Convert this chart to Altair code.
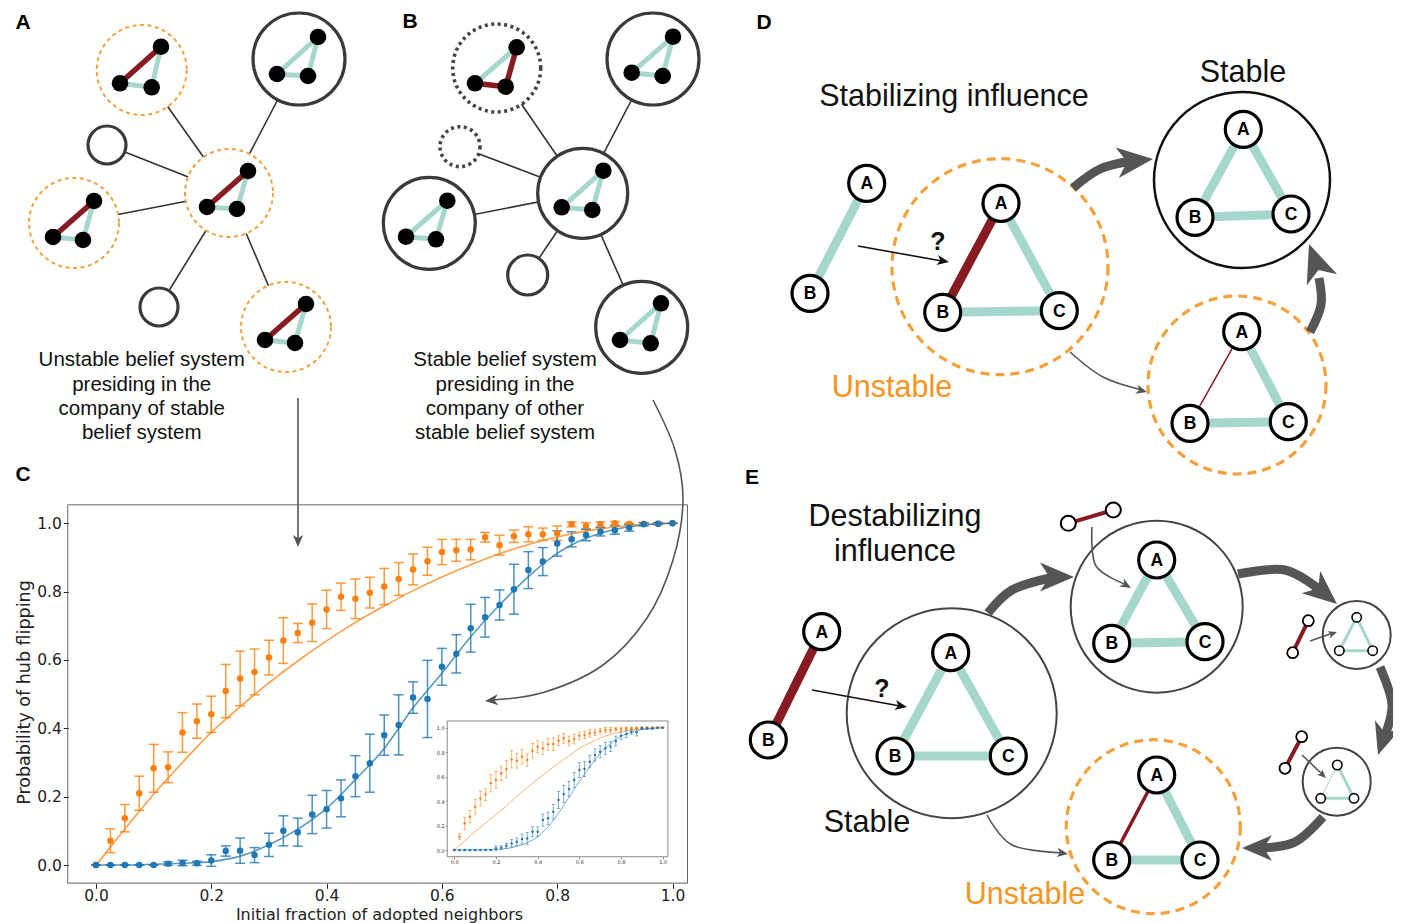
import altair as alt
import pandas as pd

# ------------------------------------------------------------------
# Canvas: one layered chart; diagram layers use reference-pixel coords
# ------------------------------------------------------------------
W, H = 1385, 907
OX, OY = 8, 8

FONT = "Liberation Sans"
PLOT_FONT = "DejaVu Sans"
TEAL = "#a6d7cd"
RED = "#861b22"
ORANGE_RING = "#f5a03a"
ORANGE_TEXT = "#f7941d"
GRAY = "#555555"
C_ORANGE = "#ff7f0e"
C_BLUE = "#1f77b4"

# ------------------------------ panel C data ------------------------------
frac = [0.0, 0.025, 0.05, 0.075, 0.1, 0.125, 0.15, 0.175, 0.2, 0.225,
        0.25, 0.275, 0.3, 0.325, 0.35, 0.375, 0.4, 0.425, 0.45, 0.475,
        0.5, 0.525, 0.55, 0.575, 0.6, 0.625, 0.65, 0.675, 0.7, 0.725,
        0.75, 0.775, 0.8, 0.825, 0.85, 0.875, 0.9, 0.925, 0.95, 0.975, 1.0]
orange_mean = [0.0, 0.071, 0.137, 0.210, 0.283, 0.286, 0.388, 0.421, 0.441, 0.509,
               0.546, 0.565, 0.607, 0.657, 0.679, 0.709, 0.748, 0.785, 0.779, 0.797,
               0.815, 0.837, 0.865, 0.889, 0.916, 0.921, 0.923, 0.959, 0.936, 0.962,
               0.968, 0.968, 0.971, 0.997, 0.992, 0.997, 1.0, 0.998, 0.999, 0.999, 1.0]
orange_err = [0.0, 0.035, 0.04, 0.05, 0.07, 0.045, 0.058, 0.05, 0.053, 0.078,
              0.08, 0.067, 0.051, 0.067, 0.028, 0.055, 0.056, 0.04, 0.058, 0.045,
              0.053, 0.048, 0.045, 0.041, 0.037, 0.032, 0.03, 0.014, 0.029, 0.018,
              0.022, 0.018, 0.021, 0.007, 0.01, 0.007, 0.005, 0.003, 0.003, 0.002, 0.0]
blue_mean = [0.0, 0.0, 0.0, 0.0, 0.0, 0.004, 0.006, 0.005, 0.013, 0.041,
             0.042, 0.029, 0.059, 0.100, 0.096, 0.148, 0.163, 0.195, 0.260, 0.298,
             0.380, 0.410, 0.490, 0.486, 0.580, 0.618, 0.693, 0.725, 0.761, 0.807,
             0.863, 0.888, 0.941, 0.953, 0.966, 0.975, 0.980, 0.987, 0.997, 0.999, 1.0]
blue_err = [0.0, 0.0, 0.0, 0.0, 0.0, 0.005, 0.008, 0.006, 0.017, 0.015,
            0.037, 0.022, 0.034, 0.044, 0.041, 0.056, 0.055, 0.054, 0.06, 0.085,
            0.059, 0.088, 0.046, 0.113, 0.054, 0.056, 0.07, 0.058, 0.044, 0.073,
            0.054, 0.041, 0.037, 0.022, 0.017, 0.012, 0.012, 0.01, 0.005, 0.003, 0.0]
fit_frac = [0.0, 0.05, 0.1, 0.15, 0.2, 0.25, 0.3, 0.35, 0.4, 0.45, 0.5,
            0.55, 0.6, 0.65, 0.7, 0.75, 0.8, 0.85, 0.9, 0.95, 1.0]
orange_fit = [0.0, 0.105, 0.207, 0.300, 0.388, 0.463, 0.533, 0.597, 0.656, 0.710, 0.758,
              0.803, 0.843, 0.879, 0.911, 0.938, 0.960, 0.977, 0.989, 0.997, 1.0]
blue_fit = [0.0, 0.0, 0.002, 0.005, 0.01, 0.026, 0.059, 0.105, 0.166, 0.25, 0.341,
            0.46, 0.561, 0.668, 0.761, 0.844, 0.912, 0.956, 0.982, 0.995, 1.0]

inset_orange_mean = [0.0, 0.109, 0.218, 0.272, 0.354, 0.422, 0.455, 0.545, 0.572, 0.627,
                     0.662, 0.741, 0.730, 0.763, 0.736, 0.812, 0.845, 0.831, 0.864, 0.866,
                     0.894, 0.913, 0.891, 0.907, 0.935, 0.940, 0.954, 0.959, 0.973, 0.981,
                     0.981, 0.989, 0.989, 0.995, 0.995, 0.997, 1.0, 1.0, 1.0, 1.0, 1.0]
inset_orange_err = [0.0, 0.025, 0.05, 0.05, 0.06, 0.06, 0.05, 0.07, 0.07, 0.06,
                    0.07, 0.07, 0.06, 0.06, 0.05, 0.06, 0.05, 0.05, 0.05, 0.05,
                    0.04, 0.04, 0.04, 0.04, 0.03, 0.03, 0.03, 0.025, 0.02, 0.02,
                    0.02, 0.015, 0.015, 0.01, 0.01, 0.008, 0.005, 0.004, 0.003, 0.002, 0.0]
inset_blue_mean = [0.0, 0.0, 0.0, 0.0, 0.0, 0.0, 0.0, 0.0, 0.014, 0.019,
                   0.035, 0.054, 0.068, 0.090, 0.095, 0.150, 0.150, 0.245, 0.259, 0.313,
                   0.409, 0.458, 0.499, 0.572, 0.654, 0.662, 0.722, 0.777, 0.804, 0.831,
                   0.845, 0.891, 0.935, 0.948, 0.967, 0.962, 0.995, 0.995, 0.995, 1.0, 1.0]
inset_blue_err = [0.0, 0.0, 0.0, 0.0, 0.0, 0.0, 0.005, 0.005, 0.02, 0.015,
                  0.02, 0.03, 0.03, 0.04, 0.05, 0.04, 0.04, 0.05, 0.05, 0.06,
                  0.07, 0.07, 0.06, 0.06, 0.06, 0.06, 0.05, 0.05, 0.05, 0.05,
                  0.04, 0.04, 0.03, 0.03, 0.02, 0.03, 0.01, 0.01, 0.01, 0.005, 0.0]
inset_orange_fit = [0.0, 0.075, 0.15, 0.22, 0.29, 0.36, 0.44, 0.51, 0.58, 0.645, 0.71,
                    0.77, 0.83, 0.875, 0.915, 0.945, 0.965, 0.98, 0.99, 0.997, 1.0]
inset_blue_fit = [0.0, 0.0, 0.0, 0.002, 0.005, 0.012, 0.03, 0.06, 0.11, 0.19, 0.30,
                  0.43, 0.56, 0.68, 0.79, 0.87, 0.93, 0.965, 0.985, 0.995, 1.0]

tick_values = [0.0, 0.2, 0.4, 0.6, 0.8, 1.0]
main_limits = [-0.049, 1.026, -0.053, 1.054]
inset_limits = [-0.034, 1.025, -0.055, 1.055]

# ------------------------------ diagram data ------------------------------
hub_A = (229, 193)
satellites_A = [(141.7, 70), (299, 59), (107, 145), (74, 223), (159, 307), (286, 327)]
hub_B = (582.7, 193.3)
satellites_B = [(496.7, 68), (653, 59), (460, 146.7), (429.3, 223.3), (527.7, 275), (641.7, 327.3)]

solid_rings = [(299, 59, 46), (107, 145, 19), (159, 307, 19),
               (653, 59, 46), (582.7, 193.3, 45), (429.3, 223.3, 46),
               (527.7, 275, 20), (641.7, 327.3, 46)]
dashed_rings = [(229, 193, 44), (141.7, 70, 45), (74, 223, 45), (286, 327, 45)]
dotted_rings = [(496.7, 68, 44), (460, 146.7, 20)]

# belief triangles in A and B: top, left, right node, red edges
belief_triangles = [
    ((161, 46.7), (120, 83.3), (151.7, 87.3), ["tl"]),
    ((318, 37), (277, 74), (308, 76), []),
    ((248, 171), (207, 207), (237, 209), ["tl"]),
    ((94, 201), (53, 237), (83, 240), ["tl"]),
    ((306, 304), (265, 340), (295, 343), ["tl"]),
    ((516.7, 47.3), (475, 83.3), (505.7, 86.7), ["tr", "lr"]),
    ((673, 36.7), (631.7, 72.7), (662.7, 76), []),
    ((603.3, 170.7), (561.7, 207.3), (592.3, 210), []),
    ((447.3, 200.7), (406, 236.7), (436, 239.3), []),
    ((661, 303.3), (620, 340), (650.7, 343.3), []),
]

stable_ring_black = [(1242, 180, 88)]
stable_rings_gray = [(951.7, 713.3, 105), (1156.7, 606.7, 86), (1356.7, 635, 34), (1336.7, 781.7, 34)]
unstable_rings = [(1000, 266.7, 108), (1237, 385, 89), (1153.3, 826.7, 87)]

teal_thick = [(866.7, 183.3, 810, 293.3),
              (1001, 203.3, 1059.3, 310.7), (942.7, 312.3, 1059.3, 310.7),
              (1243.3, 129.3, 1195, 217.3), (1243.3, 129.3, 1291, 214), (1195, 217.3, 1291, 214),
              (1241.7, 331.7, 1288.3, 421.7), (1190, 423.3, 1288.3, 421.7),
              (950.7, 652.7, 895, 756), (950.7, 652.7, 1008.3, 756), (895, 756, 1008.3, 756),
              (1156.7, 560, 1111.7, 643.3), (1156.7, 560, 1205, 641.7), (1111.7, 643.3, 1205, 641.7),
              (1156.7, 775, 1200, 860), (1111.7, 860, 1200, 860)]
red_thick = [(1001, 203.3, 942.7, 312.3), (821.7, 631.7, 768.3, 740)]
red_thin = [(1241.7, 331.7, 1190, 423.3)]
red_mid = [(1156.7, 775, 1111.7, 860)]
red_pairs = [(1068.3, 523.3, 1113.3, 510), (1308.3, 620.7, 1292.7, 652.7), (1301.7, 736.7, 1285, 768.3)]
teal_mini = [(1356.7, 617.3, 1339.3, 650.7), (1356.7, 617.3, 1372.7, 650.7), (1339.3, 650.7, 1372.7, 650.7),
             (1337.3, 765, 1354, 798.3), (1320.7, 798.3, 1354, 798.3)]
teal_faint = [(1337.3, 765, 1320.7, 798.3)]

letter_nodes = [("A", 866.7, 183.3), ("B", 810, 293.3),
                ("A", 1001, 203.3), ("B", 942.7, 312.3), ("C", 1059.3, 310.7),
                ("A", 1243.3, 129.3), ("B", 1195, 217.3), ("C", 1291, 214),
                ("A", 1241.7, 331.7), ("B", 1190, 423.3), ("C", 1288.3, 421.7),
                ("A", 821.7, 631.7), ("B", 768.3, 740),
                ("A", 950.7, 652.7), ("B", 895, 756), ("C", 1008.3, 756),
                ("A", 1156.7, 560), ("B", 1111.7, 643.3), ("C", 1205, 641.7),
                ("A", 1156.7, 775), ("B", 1111.7, 860), ("C", 1200, 860)]
open_nodes_med = [(1068.3, 523.3), (1113.3, 510)]
open_nodes_small = [(1308.3, 620.7), (1292.7, 652.7), (1301.7, 736.7), (1285, 768.3)]
open_nodes_mini = [(1356.7, 617.3), (1339.3, 650.7), (1372.7, 650.7),
                   (1337.3, 765), (1320.7, 798.3), (1354, 798.3)]

thick_arrows = [[(1073, 188), (1100, 169), (1132, 161)],
                [(1310, 332), (1321, 305), (1319, 278)],
                [(988, 613), (1012, 590), (1050, 578)],
                [(1238, 574), (1285, 570), (1320, 590)],
                [(1380, 667), (1392, 705), (1384, 738)],
                [(1323, 817), (1295, 842), (1262, 848)]]
thick_heads = [(1153, 159, 354, 36), (1309, 244, 250, 38), (1074, 577, 0, 34),
               (1337, 604, 40, 34), (1378, 755, 108, 32), (1242, 848, 180, 30)]
thin_gray_arrows = [[(1070, 352), (1103, 377), (1142, 390)],
                    [(1092, 527), (1096, 566), (1127, 585)],
                    [(987, 815), (1012, 845), (1063, 853)],
                    [(1310, 641), (1333, 633)],
                    [(1302, 755), (1322, 774)],
                    [(298, 398), (298, 540)],
                    [(653, 400), (675, 450), (683, 500), (673, 560), (647, 618),
                     (603, 665), (545, 692), (492, 700)]]
thin_gray_heads = [(1147, 392, 15, 11), (1131, 588, 30, 11), (1068, 854, 8, 11),
                   (1337, 632, 341, 9), (1326, 778, 43, 9), (298, 547, 90, 12), (485, 701, 175, 13)]
thin_black_arrows = [[(858, 246), (942, 261)], [(812, 690), (900, 706)]]
thin_black_heads = [(949, 262, 10, 12), (907, 707, 10, 12)]

panel_letters = [("A", 23, 23), ("B", 410, 22), ("C", 23, 475), ("D", 764, 23), ("E", 752, 478)]
captions = [("Unstable belief system", 141.7, 360), ("presiding in the", 141.7, 385),
            ("company of stable", 141.7, 409), ("belief system", 141.7, 433),
            ("Stable belief system", 505, 360), ("presiding in the", 505, 385),
            ("company of other", 505, 409), ("stable belief system", 505, 433)]
big_labels = [("Stabilizing influence", 954, 97), ("Stable", 1243, 73),
              ("Destabilizing", 895, 517), ("influence", 895, 552), ("Stable", 867, 823)]
orange_labels = [("Unstable", 892, 388), ("Unstable", 1025, 895)]
question_marks = [("?", 938, 242), ("?", 882, 689)]


# ------------------------------ helpers ------------------------------
def fig_x(f):
    return alt.X(f"{f}:Q", scale=alt.Scale(domain=[OX, OX + W], nice=False, zero=False), axis=None)


def fig_y(f):
    return alt.Y(f"{f}:Q", scale=alt.Scale(domain=[OY, OY + H], nice=False, zero=False, reverse=True), axis=None)


def circles(items, stroke, width, dash=None, fill="white"):
    df = pd.DataFrame(items, columns=["x", "y", "r"])
    kw = dict(shape="circle", filled=True, fill=fill, stroke=stroke, strokeWidth=width,
              opacity=1, fillOpacity=1, strokeOpacity=1)
    if dash:
        kw["strokeDash"] = dash
    return alt.Chart(df).mark_point(**kw).transform_calculate(
        sz="4*datum.r*datum.r").encode(x=fig_x("x"), y=fig_y("y"), size=alt.Size("sz:Q", scale=None))


def dots(items, r, fill, stroke="black", width=0):
    return circles([(x, y, r) for x, y in items], stroke, width, fill=fill)


def edges(items, color, width, opacity=1.0):
    df = pd.DataFrame(items, columns=["x", "y", "x2", "y2"])
    return alt.Chart(df).mark_rule(color=color, strokeWidth=width, opacity=opacity).encode(
        x=fig_x("x"), y=fig_y("y"), x2="x2:Q", y2="y2:Q")


def shafts(paths, color, width):
    rows = []
    for pid, pts in enumerate(paths):
        for i, (x, y) in enumerate(pts):
            rows.append({"id": pid, "i": i, "x": x, "y": y})
    return alt.Chart(pd.DataFrame(rows)).mark_line(
        color=color, strokeWidth=width, interpolate="cardinal", strokeCap="butt").encode(
        x=fig_x("x"), y=fig_y("y"), detail="id:N", order="i:Q")


HEAD = "M1,0L-1,-0.85L-0.45,0L-1,0.85Z"


def heads(items, color):
    df = pd.DataFrame(items, columns=["tx", "ty", "ang", "len"])
    return alt.Chart(df).mark_point(shape=HEAD, filled=True, color=color, opacity=1,
                                    strokeWidth=0).transform_calculate(
        cx="datum.tx - datum.len/2*cos(datum.ang*PI/180)",
        cy="datum.ty - datum.len/2*sin(datum.ang*PI/180)",
        sz="datum.len*datum.len").encode(
        x=fig_x("cx"), y=fig_y("cy"),
        size=alt.Size("sz:Q", scale=None), angle=alt.Angle("ang:Q", scale=None))


def texts(items, size, color="#111111", weight="normal", font=FONT, dy=0):
    df = pd.DataFrame(items, columns=["t", "x", "y"])
    return alt.Chart(df).mark_text(fontSize=size, color=color, fontWeight=weight, font=font,
                                   align="center", baseline="middle", dy=dy).encode(
        x=fig_x("x"), y=fig_y("y"), text="t:N")


def value_scale_x(p0, p1):
    a, b = p0 - OX, p1 - p0
    return alt.Scale(domain=[(0 - a) / b, (W - a) / b], nice=False, zero=False)


def value_scale_y(p0, p1):
    a, b = p0 - OY, p1 - p0
    return alt.Scale(domain=[(H - a) / b, (0 - a) / b], nice=False, zero=False)


def plot_panel(sx, sy, limits, axis_x, axis_y, series, fits, pt_size, bar_w, cap, fit_w, fill_bg, frame_color):
    out = []
    fr = pd.DataFrame({"x0": [limits[0]], "x1": [limits[1]], "y0": [limits[2]], "y1": [limits[3]]})
    out.append(alt.Chart(fr).mark_rect(fill="white", fillOpacity=1 if fill_bg else 0,
                                       stroke=frame_color, strokeWidth=1).encode(
        x=alt.X("x0:Q", scale=sx, axis=axis_x), x2="x1:Q",
        y=alt.Y("y0:Q", scale=sy, axis=axis_y), y2="y1:Q"))
    for xs, means, errs, color in series:
        df = pd.DataFrame({"f": xs, "m": means, "e": errs})
        base = alt.Chart(df).transform_calculate(lo="datum.m - datum.e", hi="datum.m + datum.e")
        out.append(base.mark_rule(color=color, strokeWidth=bar_w, opacity=0.8).encode(
            x=alt.X("f:Q", scale=sx, axis=None), y=alt.Y("lo:Q", scale=sy, axis=None), y2="hi:Q"))
        out.append(base.transform_fold(["lo", "hi"], as_=["k", "v"]).mark_tick(
            color=color, orient="horizontal", size=cap, thickness=bar_w, opacity=0.8).encode(
            x=alt.X("f:Q", scale=sx, axis=None), y=alt.Y("v:Q", scale=sy, axis=None)))
    for xs, ys, color in fits:
        df = pd.DataFrame({"f": xs, "v": ys})
        out.append(alt.Chart(df).mark_line(color=color, strokeWidth=fit_w, opacity=0.75,
                                           interpolate="monotone").encode(
            x=alt.X("f:Q", scale=sx, axis=None), y=alt.Y("v:Q", scale=sy, axis=None)))
    for xs, means, errs, color in series:
        df = pd.DataFrame({"f": xs, "m": means})
        out.append(alt.Chart(df).mark_circle(color=color, size=pt_size, opacity=1).encode(
            x=alt.X("f:Q", scale=sx, axis=None), y=alt.Y("m:Q", scale=sy, axis=None)))
    return out


# ------------------------------ build layers ------------------------------
layers = []

hub_links = [(hub_A[0], hub_A[1], x, y) for x, y in satellites_A] + \
            [(hub_B[0], hub_B[1], x, y) for x, y in satellites_B]
layers.append(edges(hub_links, "#333333", 1.6))

layers.append(circles(solid_rings, "#3a3a3a", 3.2))
layers.append(circles(dashed_rings, ORANGE_RING, 2.0, dash=[4, 3.5]))
layers.append(circles(dotted_rings, "#444444", 3.6, dash=[3, 3.5]))
layers.append(circles(stable_ring_black, "#111111", 2.5))
layers.append(circles(stable_rings_gray, "#444444", 2.0))
layers.append(circles(unstable_rings, ORANGE_RING, 3.2, dash=[9, 6]))

teal_ab, red_ab, dot_ab = [], [], []
for top, left, right, reds in belief_triangles:
    for key, (p, q) in {"tl": (top, left), "tr": (top, right), "lr": (left, right)}.items():
        (red_ab if key in reds else teal_ab).append((p[0], p[1], q[0], q[1]))
    dot_ab += [top, left, right]
layers.append(edges(teal_ab, TEAL, 5))
layers.append(edges(red_ab, RED, 5.5))
layers.append(dots(dot_ab, 8.3, "black"))

layers.append(edges(teal_thick, TEAL, 9))
layers.append(edges(teal_mini, TEAL, 3))
layers.append(edges(teal_faint, TEAL, 1))
layers.append(edges(red_thick, RED, 9))
layers.append(edges(red_thin, RED, 1.5))
layers.append(edges(red_mid, RED, 3.5))
layers.append(edges(red_pairs, RED, 4))

layers.append(dots([(x, y) for _, x, y in letter_nodes], 18, "white", "black", 3.2))
layers.append(texts(letter_nodes, 17.5, "black", "bold", dy=1))
layers.append(dots(open_nodes_med, 7.5, "white", "black", 2))
layers.append(dots(open_nodes_small, 5.5, "white", "black", 1.8))
layers.append(dots(open_nodes_mini, 4.7, "white", "black", 1.6))

# panel C
x_axis_pos = 883.3      # reference pixel row of the bottom frame
y_axis_pos = 68.3       # reference pixel column of the left frame
main_sx = value_scale_x(96, 672.5)
main_sy = value_scale_y(865, 523.3)
main_ax_x = alt.Axis(orient="bottom", offset=-(OY + H - x_axis_pos), values=tick_values, format=".1f",
                     grid=False, domain=False, tickSize=5, tickColor="#222222", tickWidth=1,
                     labelFont=PLOT_FONT, labelFontSize=15.5, labelColor="#222222", labelPadding=0,
                     title="Initial fraction of adopted neighbors", titleFont=PLOT_FONT,
                     titleFontSize=16, titleFontWeight="normal", titleColor="#222222",
                     titleX=379 - OX, titleY=919 - x_axis_pos, titleAlign="center",
                     titleBaseline="alphabetic", titleAngle=0)
main_ax_y = alt.Axis(orient="left", offset=-(y_axis_pos - OX), values=tick_values, format=".1f",
                     grid=False, domain=False, tickSize=5, tickColor="#222222", tickWidth=1,
                     labelFont=PLOT_FONT, labelFontSize=15.5, labelColor="#222222", labelPadding=2,
                     title="Probability of hub flipping", titleFont=PLOT_FONT,
                     titleFontSize=17.5, titleFontWeight="normal", titleColor="#222222",
                     titleX=24.5 - y_axis_pos, titleY=692 - OY, titleAlign="center",
                     titleBaseline="middle", titleAngle=270)
layers += plot_panel(main_sx, main_sy, main_limits, main_ax_x, main_ax_y,
                     [(frac, orange_mean, orange_err, C_ORANGE), (frac, blue_mean, blue_err, C_BLUE)],
                     [(fit_frac, orange_fit, C_ORANGE), (fit_frac, blue_fit, C_BLUE)],
                     42, 1.5, 10, 1.6, False, "#666666")

inset_sx = value_scale_x(454.3, 662.7)
inset_sy = value_scale_y(850, 727.7)
inset_ax_x = alt.Axis(orient="bottom", offset=-(OY + H - 856.7), values=tick_values, format=".1f",
                      grid=False, domain=False, tickSize=2, tickColor="#333333", tickWidth=0.6,
                      labelFont=PLOT_FONT, labelFontSize=5, labelColor="#333333", labelPadding=1, title=None)
inset_ax_y = alt.Axis(orient="left", offset=-(447.3 - OX), values=tick_values, format=".1f",
                      grid=False, domain=False, tickSize=2, tickColor="#333333", tickWidth=0.6,
                      labelFont=PLOT_FONT, labelFontSize=5, labelColor="#333333", labelPadding=1, title=None)
layers += plot_panel(inset_sx, inset_sy, inset_limits, inset_ax_x, inset_ax_y,
                     [(frac, inset_orange_mean, inset_orange_err, C_ORANGE),
                      (frac, inset_blue_mean, inset_blue_err, C_BLUE)],
                     [(fit_frac, inset_orange_fit, C_ORANGE), (fit_frac, inset_blue_fit, C_BLUE)],
                     6, 0.7, 3, 0.8, True, "#888888")

# arrows
layers.append(shafts(thick_arrows, GRAY, 9))
layers.append(heads(thick_heads, GRAY))
layers.append(shafts(thin_gray_arrows, GRAY, 1.6))
layers.append(heads(thin_gray_heads, GRAY))
layers.append(shafts(thin_black_arrows, "#111111", 1.6))
layers.append(heads(thin_black_heads, "#111111"))

# texts
layers.append(texts(panel_letters, 21, "black", "bold"))
layers.append(texts(captions, 20.5, "#111111"))
layers.append(texts(big_labels, 30.5, "#111111"))
layers.append(texts(orange_labels, 30.5, ORANGE_TEXT))
layers.append(texts(question_marks, 25, "#111111", "bold"))

# bottom padding lets the x-axis title sit on the last rows of the page, as in the reference
chart = alt.layer(*layers).resolve_scale(x="independent", y="independent").properties(
    width=W, height=H, padding={"left": 0, "top": 0, "right": 0, "bottom": 8},
    autosize=alt.AutoSizeParams(type="none"),
    background="white").configure_view(strokeWidth=0)

chart.save("out.html", embed_options={"renderer": "svg", "actions": False})
